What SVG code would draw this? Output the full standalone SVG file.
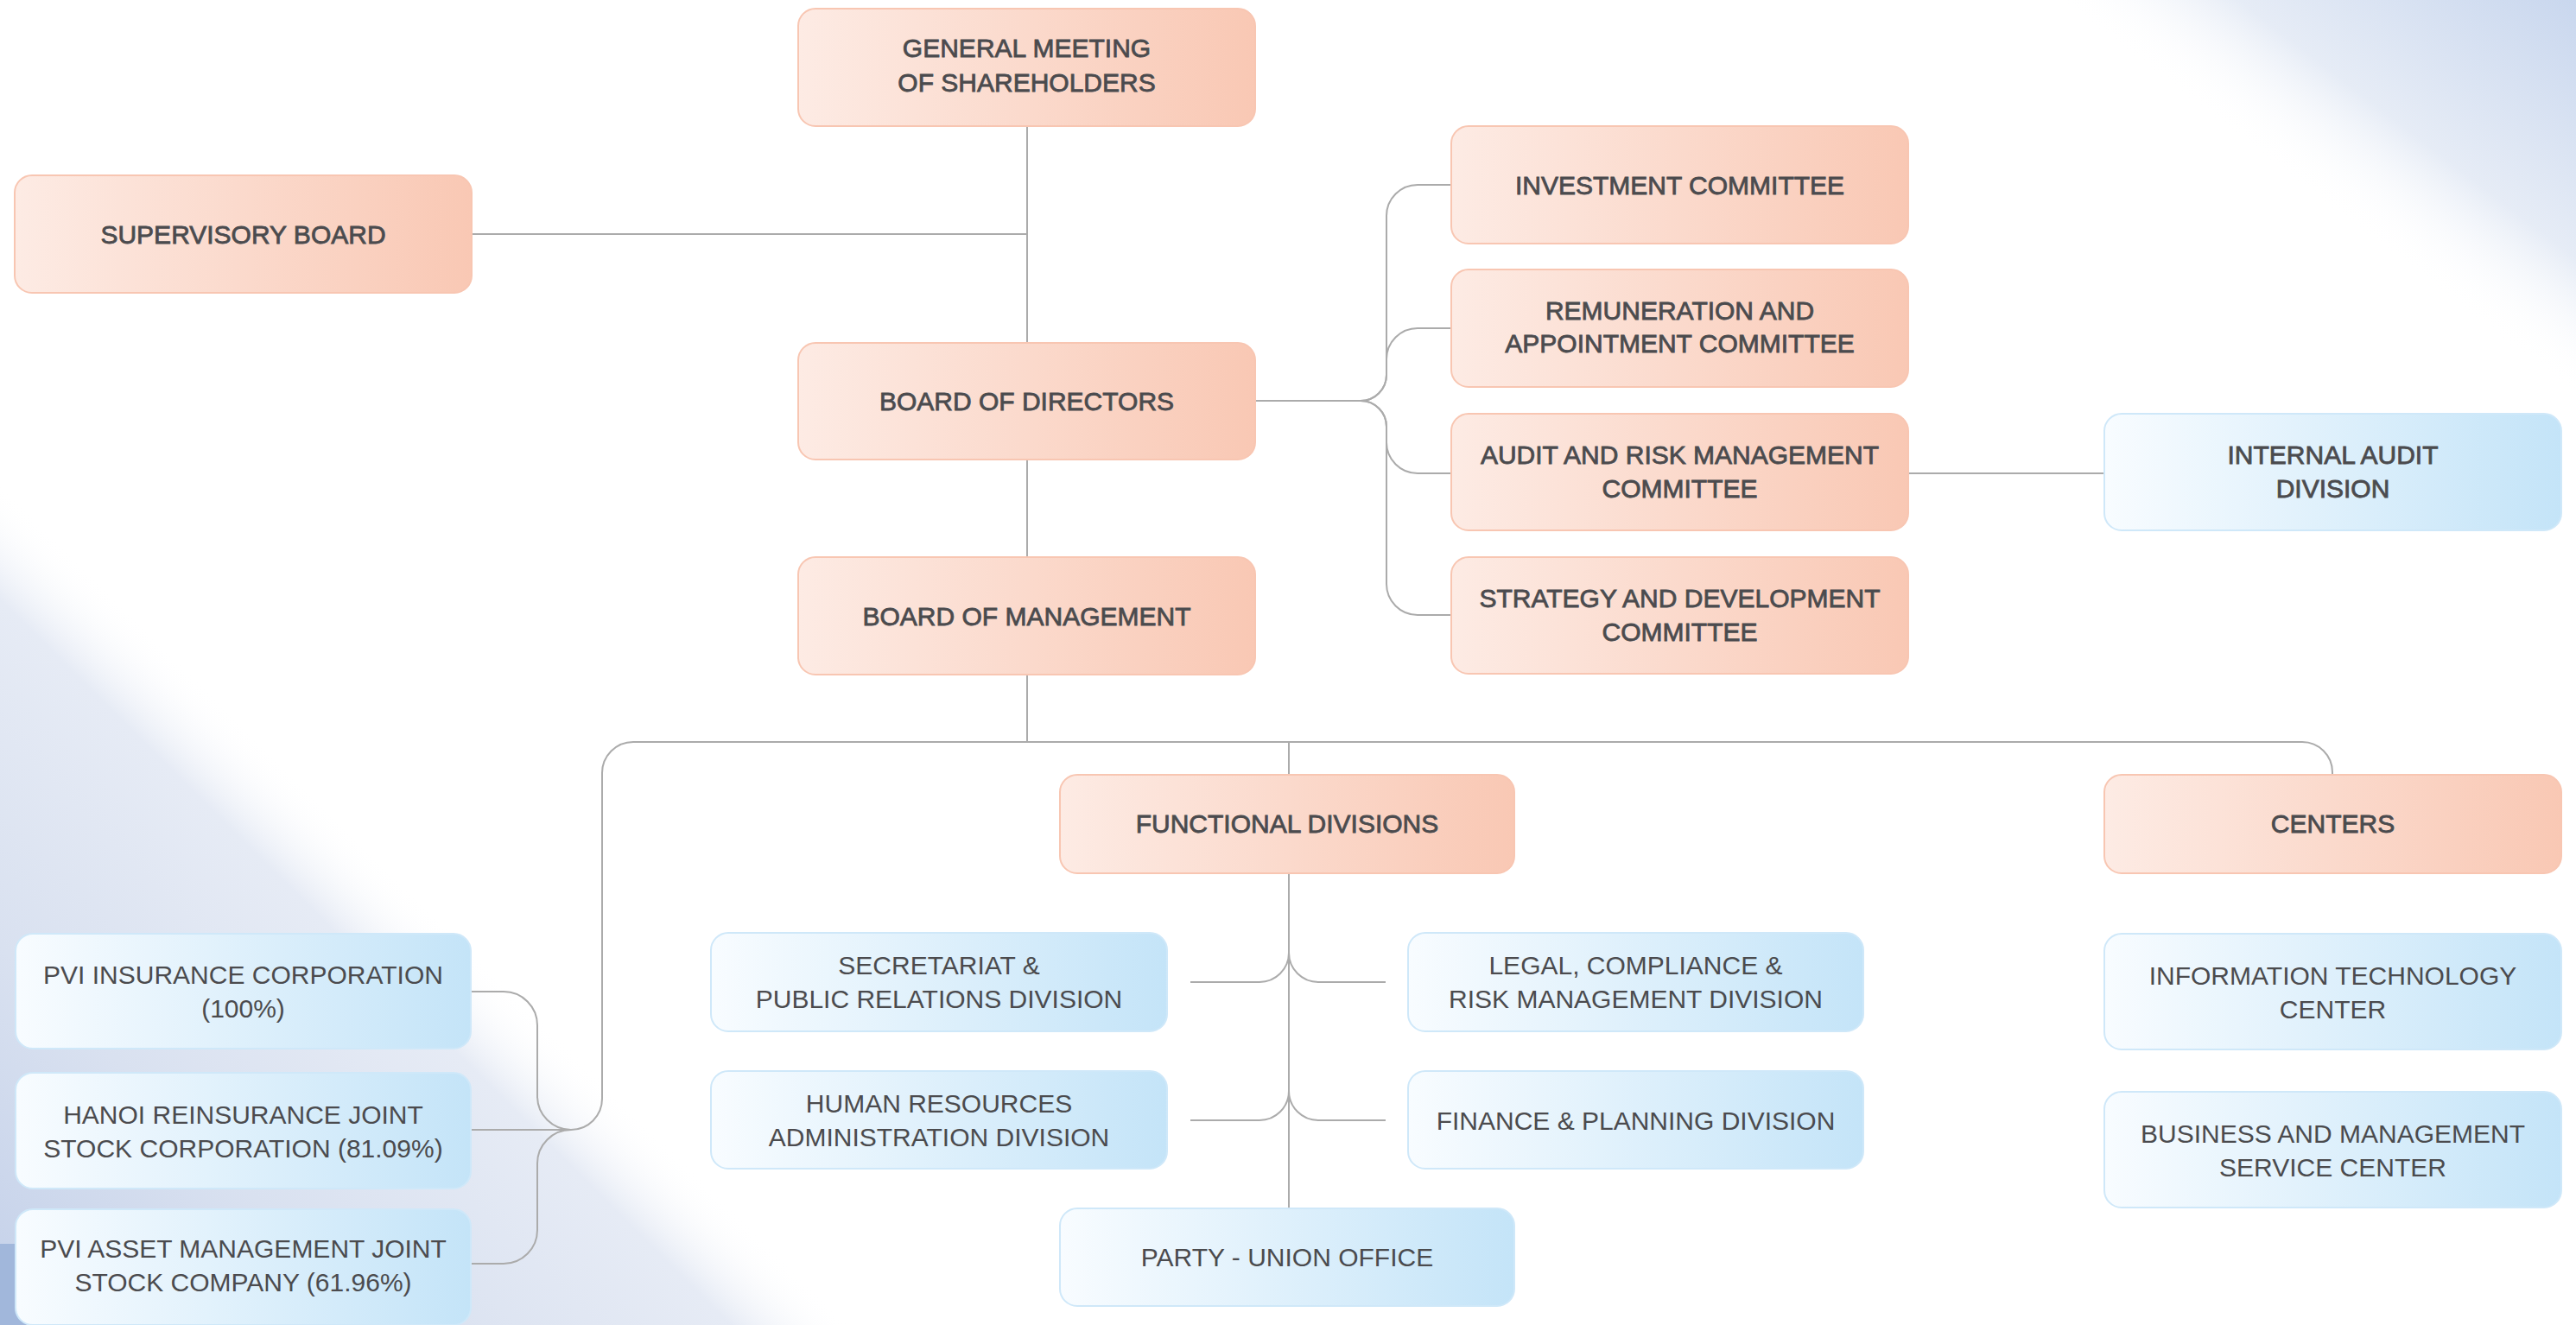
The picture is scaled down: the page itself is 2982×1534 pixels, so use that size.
<svg xmlns="http://www.w3.org/2000/svg" width="2982" height="1534" viewBox="0 0 2982 1534">
<defs>
<linearGradient id="peach" x1="0" y1="0" x2="1" y2="0">
<stop offset="0" stop-color="#fdebe4"/>
<stop offset="1" stop-color="#f9c8b4"/>
</linearGradient>
<linearGradient id="blue" x1="0" y1="0" x2="1" y2="0">
<stop offset="0" stop-color="#f8fcff"/>
<stop offset="1" stop-color="#c4e4f8"/>
</linearGradient>
<linearGradient id="bgTR" gradientUnits="userSpaceOnUse" x1="2760" y1="290" x2="2982" y2="0">
<stop offset="0" stop-color="#ffffff" stop-opacity="0"/>
<stop offset="0.35" stop-color="#e6ecf6"/>
<stop offset="1" stop-color="#c9d7ee"/>
</linearGradient>
<linearGradient id="bgBL" gradientUnits="userSpaceOnUse" x1="488" y1="1042" x2="0" y2="1534">
<stop offset="0" stop-color="#ffffff" stop-opacity="0"/>
<stop offset="0.14" stop-color="#e6ebf5"/>
<stop offset="0.55" stop-color="#d9e1f0"/>
<stop offset="1" stop-color="#c3d0e9"/>
</linearGradient>
</defs>
<style>
.pk{fill:url(#peach);stroke:#f8c6b2;stroke-width:2}
.bl{fill:url(#blue);stroke:#cfe8f9;stroke-width:2}
text{font-family:"Liberation Sans",Arial,sans-serif;font-size:30px;fill:#4b4b4e;text-anchor:middle}
.md{stroke:#4b4b4e;stroke-width:0.8}
.cn{fill:none;stroke:#ababab;stroke-width:2}
</style>
<rect x="0" y="0" width="2982" height="1534" fill="#ffffff"/>
<rect x="2300" y="0" width="682" height="600" fill="url(#bgTR)"/>
<rect x="0" y="500" width="1100" height="1034" fill="url(#bgBL)"/>
<rect x="0" y="1440" width="40" height="94" fill="#a1b7db"/>

<g id="connectors" class="cn">
<path d="M1189 146 V397"/>
<path d="M546 271 H1189"/>
<path d="M1189 532 V645"/>
<path d="M1189 781 V859"/>
<path d="M1453 464 H1575 A30 30 0 0 0 1605 434 V250 A36 36 0 0 1 1641 214 H1680"/>
<path d="M1575 464 A30 30 0 0 0 1605 434 V416 A36 36 0 0 1 1641 380 H1680"/>
<path d="M1575 464 A30 30 0 0 1 1605 494 V512 A36 36 0 0 0 1641 548 H1680"/>
<path d="M1575 464 A30 30 0 0 1 1605 494 V676 A36 36 0 0 0 1641 712 H1680"/>
<path d="M2209 548 H2436"/>
<path d="M733 859 H2665 A35 35 0 0 1 2700 894 V897"/>
<path d="M1189 859 H733 A36 36 0 0 0 697 895 V1272 A36 36 0 0 1 661 1308 H546"/>
<path d="M661 1308 A39 39 0 0 1 622 1269 V1187 A39 39 0 0 0 583 1148 H546"/>
<path d="M661 1308 A39 39 0 0 0 622 1347 V1424 A39 39 0 0 1 583 1463 H546"/>
<path d="M1492 859 V897"/>
<path d="M1492 1011 V1399"/>
<path d="M1492 1103 A34 34 0 0 1 1458 1137 H1378"/>
<path d="M1492 1103 A34 34 0 0 0 1526 1137 H1604"/>
<path d="M1492 1263 A34 34 0 0 1 1458 1297 H1378"/>
<path d="M1492 1263 A34 34 0 0 0 1526 1297 H1604"/>
</g>

<g id="gms"><rect class="pk" x="924" y="10" width="529" height="136" rx="20"/>
<text class="md" x="1188.5" y="66">GENERAL MEETING</text><text class="md" x="1188.5" y="106">OF SHAREHOLDERS</text></g>
<g id="supervisory"><rect class="pk" x="17" y="203" width="529" height="136" rx="20"/>
<text class="md" x="281.5" y="282">SUPERVISORY BOARD</text></g>
<g id="bod"><rect class="pk" x="924" y="397" width="529" height="135" rx="20"/>
<text class="md" x="1188.5" y="475">BOARD OF DIRECTORS</text></g>
<g id="bom"><rect class="pk" x="924" y="645" width="529" height="136" rx="20"/>
<text class="md" x="1188.5" y="724">BOARD OF MANAGEMENT</text></g>
<g id="investment"><rect class="pk" x="1680" y="146" width="529" height="136" rx="20"/>
<text class="md" x="1944.5" y="225">INVESTMENT COMMITTEE</text></g>
<g id="remuneration"><rect class="pk" x="1680" y="312" width="529" height="136" rx="20"/>
<text class="md" x="1944.5" y="370">REMUNERATION AND</text><text class="md" x="1944.5" y="408">APPOINTMENT COMMITTEE</text></g>
<g id="audit"><rect class="pk" x="1680" y="479" width="529" height="135" rx="20"/>
<text class="md" x="1944.5" y="537">AUDIT AND RISK MANAGEMENT</text><text class="md" x="1944.5" y="576">COMMITTEE</text></g>
<g id="strategy"><rect class="pk" x="1680" y="645" width="529" height="135" rx="20"/>
<text class="md" x="1944.5" y="703">STRATEGY AND DEVELOPMENT</text><text class="md" x="1944.5" y="742">COMMITTEE</text></g>
<g id="internal-audit"><rect class="bl" x="2436" y="479" width="529" height="135" rx="20"/>
<text class="md" x="2700.5" y="537">INTERNAL AUDIT</text><text class="md" x="2700.5" y="576">DIVISION</text></g>
<g id="functional"><rect class="pk" x="1227" y="897" width="526" height="114" rx="20"/>
<text class="md" x="1490" y="964">FUNCTIONAL DIVISIONS</text></g>
<g id="centers"><rect class="pk" x="2436" y="897" width="529" height="114" rx="20"/>
<text class="md" x="2700.5" y="964">CENTERS</text></g>
<g id="secretariat"><rect class="bl" x="823" y="1080" width="528" height="114" rx="20"/>
<text x="1087" y="1128">SECRETARIAT &amp;</text><text x="1087" y="1167">PUBLIC RELATIONS DIVISION</text></g>
<g id="legal"><rect class="bl" x="1630" y="1080" width="527" height="114" rx="20"/>
<text x="1893.5" y="1128">LEGAL, COMPLIANCE &amp;</text><text x="1893.5" y="1167">RISK MANAGEMENT DIVISION</text></g>
<g id="hr"><rect class="bl" x="823" y="1240" width="528" height="113" rx="20"/>
<text x="1087" y="1288">HUMAN RESOURCES</text><text x="1087" y="1327">ADMINISTRATION DIVISION</text></g>
<g id="finance"><rect class="bl" x="1630" y="1240" width="527" height="113" rx="20"/>
<text x="1893.5" y="1308">FINANCE &amp; PLANNING DIVISION</text></g>
<g id="party"><rect class="bl" x="1227" y="1399" width="526" height="113" rx="20"/>
<text x="1490" y="1466">PARTY - UNION OFFICE</text></g>
<g id="it-center"><rect class="bl" x="2436" y="1081" width="529" height="134" rx="20"/>
<text x="2700.5" y="1140">INFORMATION TECHNOLOGY</text><text x="2700.5" y="1179">CENTER</text></g>
<g id="business-center"><rect class="bl" x="2436" y="1264" width="529" height="134" rx="20"/>
<text x="2700.5" y="1323">BUSINESS AND MANAGEMENT</text><text x="2700.5" y="1362">SERVICE CENTER</text></g>
<g id="pvi-insurance"><rect class="bl" x="18" y="1081" width="527" height="133" rx="20"/>
<text x="281.5" y="1139">PVI INSURANCE CORPORATION</text><text x="281.5" y="1178">(100%)</text></g>
<g id="hanoi-re"><rect class="bl" x="18" y="1242" width="527" height="134" rx="20"/>
<text x="281.5" y="1301">HANOI REINSURANCE JOINT</text><text x="281.5" y="1340">STOCK CORPORATION (81.09%)</text></g>
<g id="pvi-asset"><rect class="bl" x="18" y="1400" width="527" height="134" rx="20"/>
<text x="281.5" y="1456">PVI ASSET MANAGEMENT JOINT</text><text x="281.5" y="1495">STOCK COMPANY (61.96%)</text></g>
</svg>
